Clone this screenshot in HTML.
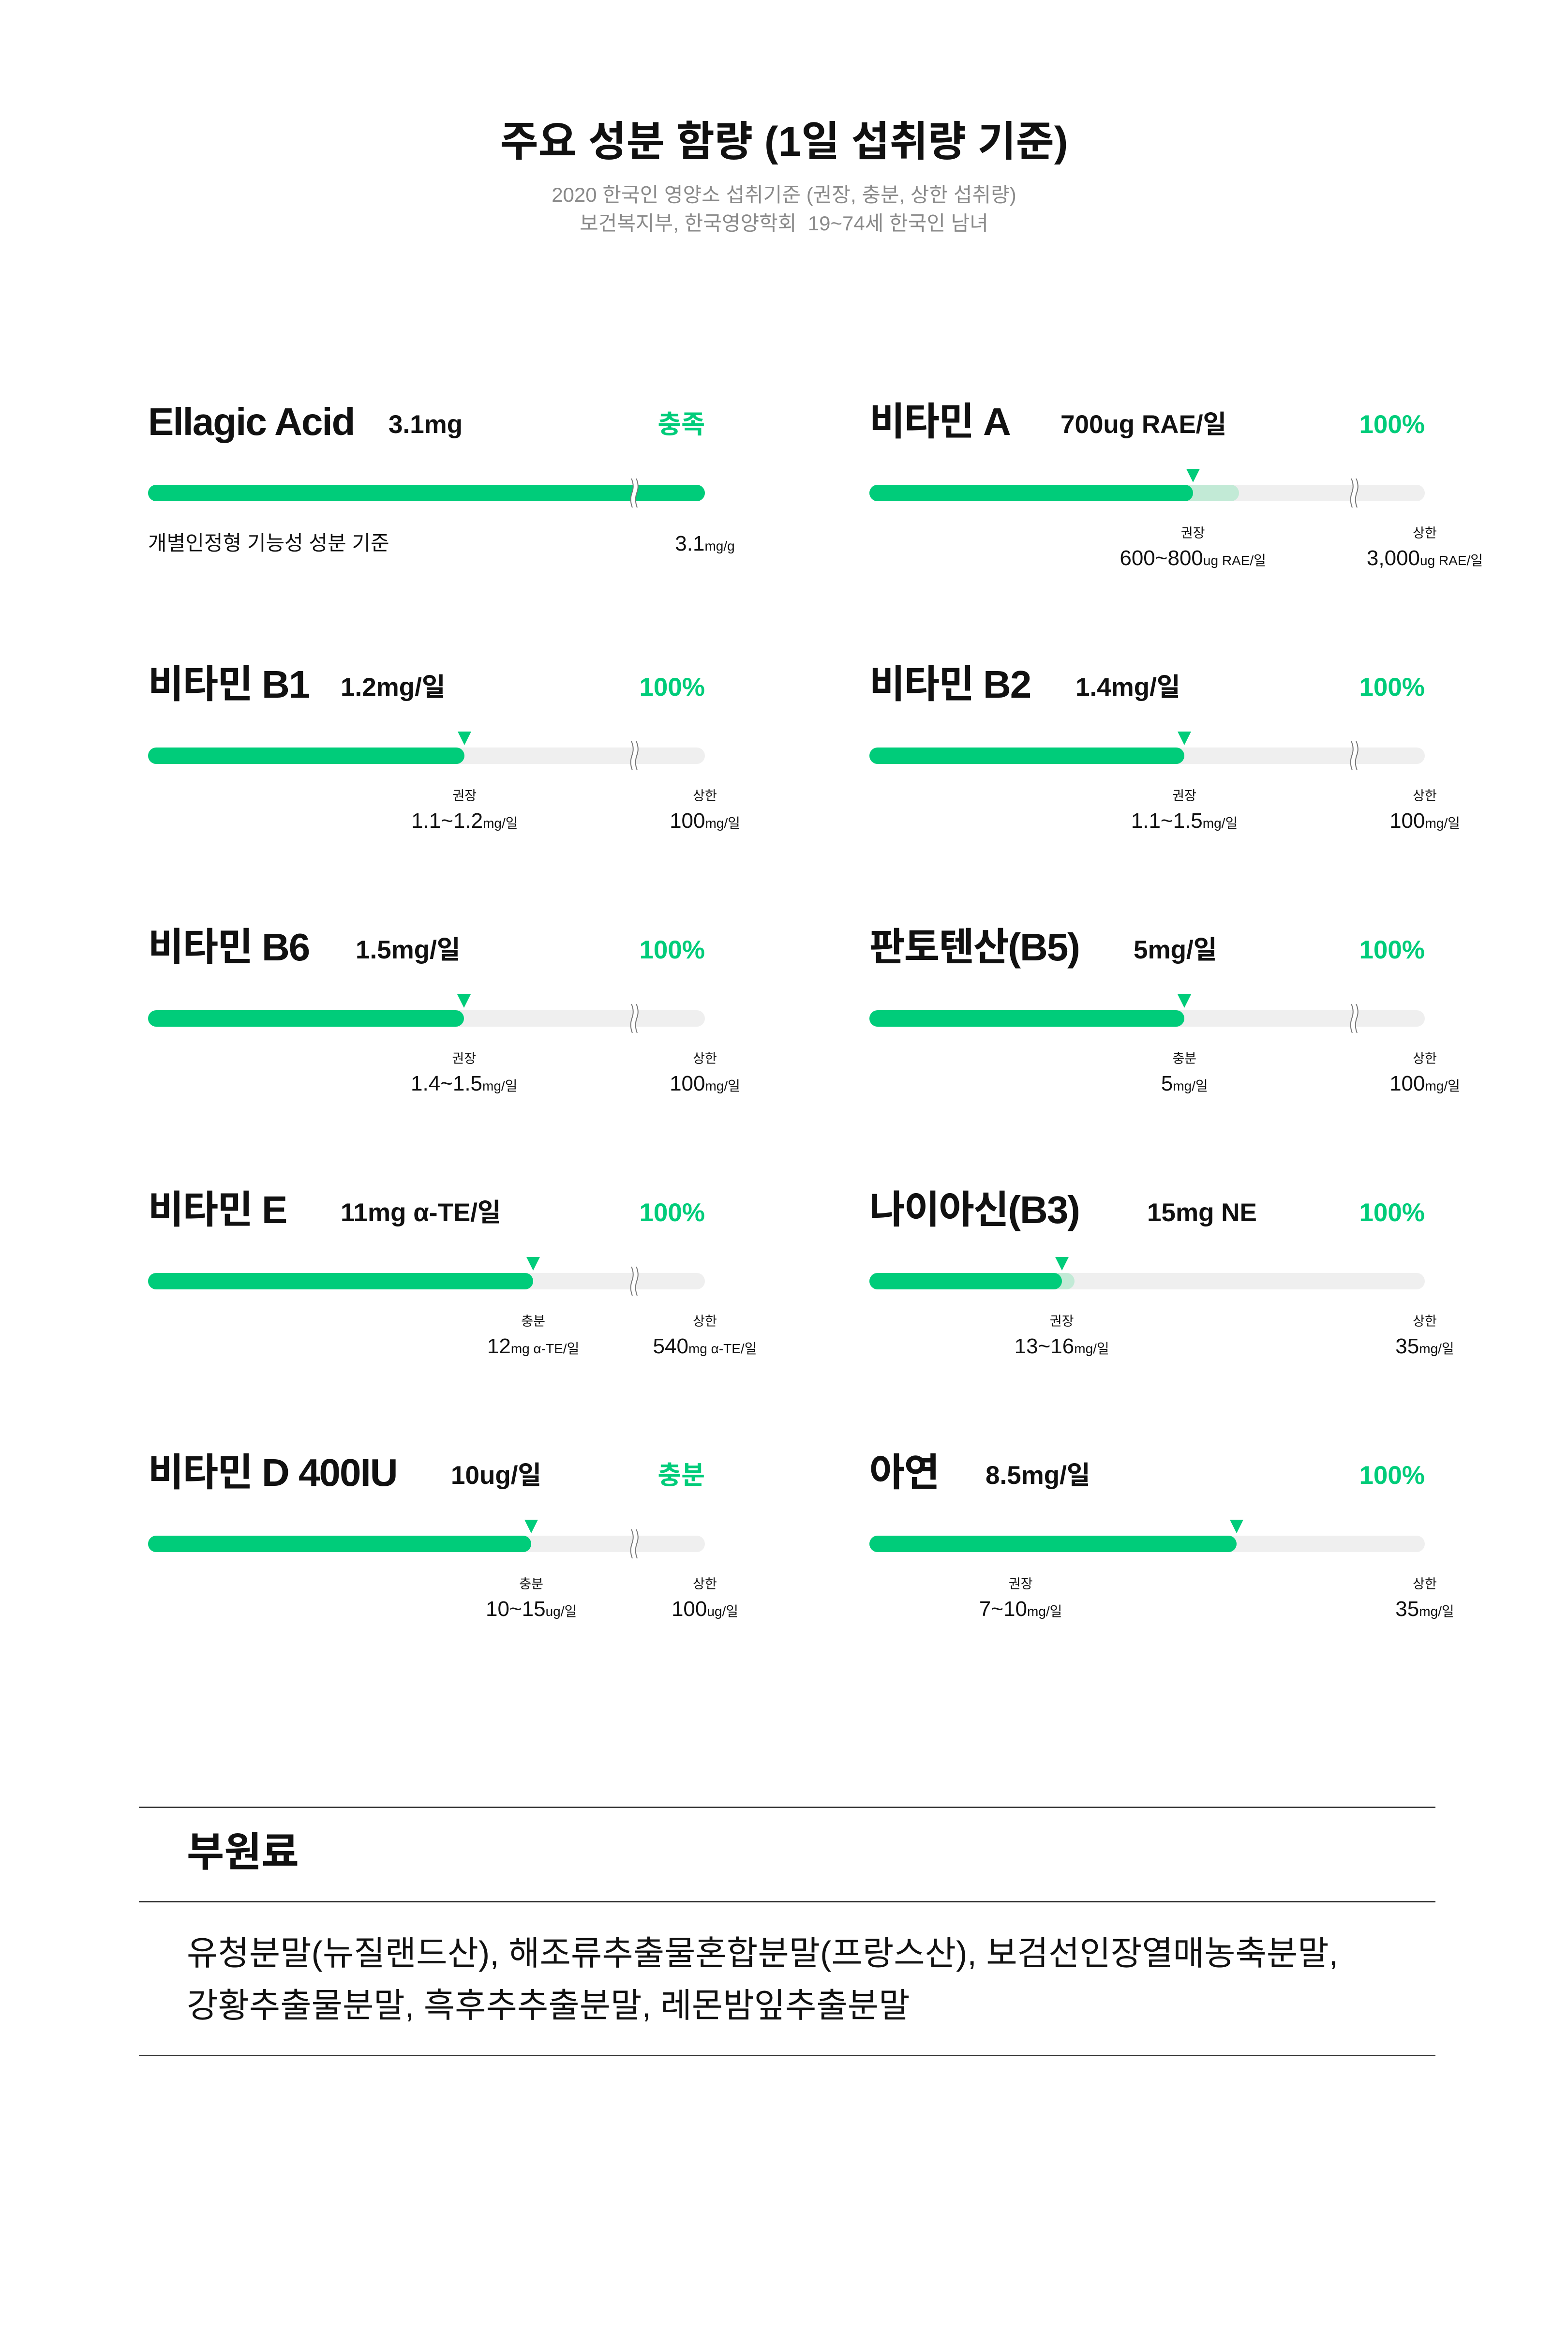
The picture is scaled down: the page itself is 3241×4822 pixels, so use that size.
<!DOCTYPE html>
<html><head><meta charset="utf-8">
<style>
body{margin:0;width:3241px;height:4822px;background:#fff;position:relative;overflow:hidden;font-family:"Liberation Sans","Noto Sans CJK KR",sans-serif;color:#111}
.a{position:absolute;white-space:nowrap}
.t{position:absolute;white-space:nowrap;line-height:1}
</style></head><body>
<div class="t" style="left:0;width:3241px;text-align:center;top:250px;font-size:86px;font-weight:bold">주요 성분 함량 (1일 섭취량 기준)</div>
<div class="t" style="left:0;width:3241px;text-align:center;top:382px;font-size:42px;color:#8a8a8a">2020 한국인 영양소 섭취기준 (권장, 충분, 상한 섭취량)</div>
<div class="t" style="left:0;width:3241px;text-align:center;top:441px;font-size:42px;color:#8a8a8a">보건복지부, 한국영양학회 &nbsp;19~74세 한국인 남녀</div>
<div id="charts"></div>

<div class="a" style="left:287px;width:2680px;top:3734px;height:3px;background:#333"></div>
<div class="t" style="left:386px;top:3786px;font-size:84px;font-weight:bold">부원료</div>
<div class="a" style="left:287px;width:2680px;top:3929px;height:3px;background:#333"></div>
<div class="t" style="left:386px;top:4002px;font-size:70px">유청분말(뉴질랜드산), 해조류추출물혼합분말(프랑스산), 보검선인장열매농축분말,</div>
<div class="t" style="left:386px;top:4110px;font-size:70px">강황추출물분말, 흑후추추출분말, 레몬밤잎추출분말</div>
<div class="a" style="left:287px;width:2680px;top:4247px;height:3px;background:#333"></div>

<script>
const names=["Ellagic Acid","비타민 A","비타민 B1","비타민 B2","비타민 B6","판토텐산(B5)","비타민 E","나이아신(B3)","비타민 D 400IU","아연"];
const amountLabels=["3.1mg","700ug RAE/일","1.2mg/일","1.4mg/일","1.5mg/일","5mg/일","11mg α-TE/일","15mg NE","10ug/일","8.5mg/일"];
const statusLabels=["충족","100%","100%","100%","100%","100%","100%","100%","충분","100%"];
const amounts=[3.1,700,1.2,1.4,1.5,5,11,15,10,8.5];
const rangeHigh=[null,800,null,null,null,null,null,16,null,null];
const scaleMax=[3.1,1050,1.845,2.157,2.31,7.7,13.9,43.3,12.7,12.85];
const hasBreak=[true,true,true,true,true,true,true,false,true,false];
const refTypes=[null,"권장","권장","권장","권장","충분","충분","권장","충분","권장"];
const refValues=[null,"600~800","1.1~1.2","1.1~1.5","1.4~1.5","5","12","13~16","10~15","7~10"];
const refAt=[null,700,1.2,1.4,1.5,5,11,15,10,3.5];
const refUnits=[null,"ug RAE/일","mg/일","mg/일","mg/일","mg/일","mg α-TE/일","mg/일","ug/일","mg/일"];
const upperValues=["3.1","3,000","100","100","100","100","540","35","100","35"];
const upperUnits=["mg/g","ug RAE/일","mg/일","mg/일","mg/일","mg/일","mg α-TE/일","mg/일","ug/일","mg/일"];
const amountX=[803,2192,704,2223,735,2343,704,2371,932,2037];

const root=document.getElementById('charts');
const G="#00cc7a";
function mk(tag,style,txt){const e=document.createElement(tag);e.className='t';e.style.cssText=style;if(txt!=null)e.textContent=txt;root.appendChild(e);return e;}

names.forEach((nm,i)=>{
  const col=i%2,row=Math.floor(i/2);
  const x0=col?1797:306,x1=col?2945:1457,brk=col?2800:1312;
  const cy=874+543*row,by=1019+543*row;
  const span=(hasBreak[i]?brk:x1)-x0;
  const sx=v=>x0+v/scaleMax[i]*span;
  let e;
  e=mk('div',`left:${x0}px;top:${cy-42}px;font-size:80px;font-weight:bold;letter-spacing:-2px`,nm);
  
  
  e=mk('div',`left:${amountX[i]}px;top:${cy-23}px;font-size:53px;font-weight:bold`,amountLabels[i]);
  
  
  e=mk('div',`left:${x1-400}px;width:400px;text-align:right;top:${cy-23}px;font-size:53px;font-weight:bold;color:${G}`,statusLabels[i]);
  
  
  e=mk('div',`left:${x0}px;top:${by-17}px;width:${x1-x0}px;height:34px;border-radius:17px;background:#efefef`);
  
  
  const fx=i===0?x1:sx(amounts[i]);
  if(rangeHigh[i]!=null){
    e=mk('div',`left:${x0}px;top:${by-17}px;width:${sx(rangeHigh[i])-x0}px;height:34px;border-radius:17px;background:#c2ead6`);
    
    
  }
  e=mk('div',`left:${x0}px;top:${by-17}px;width:${fx-x0}px;height:34px;border-radius:17px;background:${G}`);
  
  
  if(hasBreak[i]){
    const s=document.createElementNS('http://www.w3.org/2000/svg','svg');
    s.setAttribute('width','40');s.setAttribute('height','60');
    s.style.cssText=`position:absolute;left:${brk-20}px;top:${by-30}px`;
    s.innerHTML='<path d="M13 0 Q20 15 14 30 Q9 45 15 60 L25 60 Q19 45 24 30 Q30 15 23 0Z" fill="#fff"/><path d="M13 0 Q20 15 14 30 Q9 45 15 60 M23 0 Q30 15 24 30 Q19 45 25 60" fill="none" stroke="#777" stroke-width="2"/>';
    
    
    root.appendChild(s);
  }
  if(i>0){
    const mx=sx(amounts[i]);
    e=mk('div',`left:${mx-14}px;top:${by-50}px;width:0;height:0;border-left:14px solid transparent;border-right:14px solid transparent;border-top:28px solid ${G}`);
    
    
    const rx=sx(refAt[i]);
    e=mk('div',`left:${rx-200}px;width:400px;text-align:center;top:${by+70}px;font-size:27px`,refTypes[i]);
    
    
    e=mk('div',`left:${rx-300}px;width:600px;text-align:center;top:${by+113}px;font-size:44px`);
    e.innerHTML=refValues[i]+'<span style="font-size:28px">'+refUnits[i]+'</span>';
    
    
    e=mk('div',`left:${x1-200}px;width:400px;text-align:center;top:${by+70}px;font-size:27px`,'상한');
    
    
  } else {
    e=mk('div',`left:${x0}px;top:${by+83}px;font-size:42px`,'개별인정형 기능성 성분 기준');
    
    
  }
  e=mk('div',`left:${x1-300}px;width:600px;text-align:center;top:${i===0?by+83:by+113}px;font-size:44px`);
  e.innerHTML=upperValues[i]+'<span style="font-size:28px">'+upperUnits[i]+'</span>';
  
  
});
</script>
</body></html>
